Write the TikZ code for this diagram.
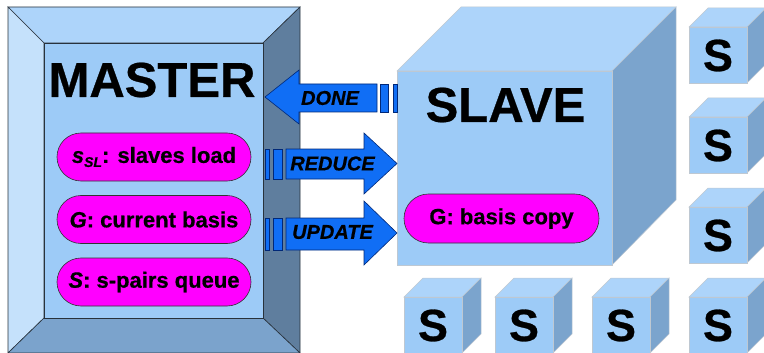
\documentclass[tikz,border=0pt]{standalone}
\usepackage{fontspec}
\setmainfont{Liberation Sans}[BoldFeatures={FakeBold=0.6},BoldItalicFeatures={FakeBold=0.6}]
\usetikzlibrary{shapes.misc}
\definecolor{frontc}{RGB}{157,203,247}
\definecolor{topc}{RGB}{173,212,250}
\definecolor{rightc}{RGB}{123,164,205}
\definecolor{mleft}{RGB}{197,225,251}
\definecolor{mright}{RGB}{95,126,158}
\definecolor{mbottom}{RGB}{123,163,204}
\definecolor{arrowc}{RGB}{16,110,245}
\definecolor{arrowline}{RGB}{0,40,120}
\definecolor{pillc}{RGB}{255,0,255}
\definecolor{edgec}{RGB}{190,200,210}
\tikzset{
  frameline/.style={draw={rgb,255:red,40;green,50;blue,60}, line width=0.6pt},
  cubeline/.style={draw=edgec, line width=0.5pt},
  pill/.style={rounded rectangle, draw=black!80, line width=0.6pt, fill=pillc,
    minimum width=194pt, minimum height=48pt, inner sep=0pt,
    font=\fontsize{22}{26}\selectfont\bfseries},
  bigtitle/.style={font=\fontsize{49}{56}\selectfont\bfseries, inner sep=0pt},
  arrowshape/.style={fill=arrowc, draw=arrowline, line width=0.6pt},
  arrowtext/.style={font=\fontsize{20}{24}\selectfont\bfseries\itshape, inner sep=0pt},
  stext/.style={font=\fontsize{45}{50}\selectfont\bfseries, inner sep=0pt},
  scube/.pic={
    \path[fill=topc, cubeline] (0,0) -- (19,-19) -- (77,-19) -- (58,0) -- cycle;
    \path[fill=rightc, cubeline] (58,0) -- (77,-19) -- (77,37) -- (58,56) -- cycle;
    \path[fill=frontc, cubeline] (0,0) rectangle (58,56);
    \node[stext] (-s) at (29,28.5) {S};
  }
}
\begin{document}
\begin{tikzpicture}[x=1pt,y=-1pt]
\useasboundingbox (0,0) rectangle (764,353);
\clip (0,0) rectangle (764,353);
% MASTER frame
\path[fill=topc, frameline] (8,7) -- (300,7) -- (263,43) -- (44,43) -- cycle;
\path[fill=mleft, frameline] (8,7) -- (44,43) -- (44,318) -- (8,353) -- cycle;
\path[fill=mright, frameline] (300,7) -- (300,353) -- (263,318) -- (263,43) -- cycle;
\path[fill=mbottom, frameline] (8,353) -- (44,318) -- (263,318) -- (300,353) -- cycle;
\path[fill=frontc, frameline] (44,43) rectangle (263,318);
\node[bigtitle] (master) at (152,80) {MASTER};
\node[pill] (sl) at (154,157) {{\itshape s}\raisebox{-0.35ex}{\fontsize{14}{16}\selectfont\itshape SL}: slaves load};
\node[pill] (gb) at (154,219.5) {{\itshape G}: current basis};
\node[pill] (sq) at (154,282) {{\itshape S}: s-pairs queue};
% SLAVE cube
\path[fill=topc, cubeline] (397,71) -- (461,7) -- (676,7) -- (612,71) -- cycle;
\path[fill=rightc, cubeline] (612,71) -- (676,7) -- (676,200) -- (612,265) -- cycle;
\path[fill=frontc, cubeline] (397,71) rectangle (612,265);
\node[bigtitle] (slave) at (505.5,105) {SLAVE};
\node[pill, minimum width=195pt, minimum height=49pt] (gc) at (501.5,218.5) {G: basis copy};
% DONE arrow
\path[arrowshape] (265,97) -- (299,70) -- (299,84) -- (377,84) -- (377,112) -- (299,112) -- (299,124) -- cycle;
\path[arrowshape] (380,84) rectangle (388,112);
\path[arrowshape] (393,84) rectangle (397,112);
\node[arrowtext] (done) at (330,98) {DONE};
% REDUCE arrow
\path[arrowshape] (265,149) rectangle (269,179);
\path[arrowshape] (273,149) rectangle (282,179);
\path[arrowshape] (286,149) -- (364,149) -- (364,133) -- (397,163.5) -- (364,194) -- (364,179) -- (286,179) -- cycle;
\node[arrowtext] (reduce) at (332.5,163.5) {REDUCE};
% UPDATE arrow
\path[arrowshape] (265,218) rectangle (269,250);
\path[arrowshape] (273,218) rectangle (282,250);
\path[arrowshape] (286,218) -- (364,218) -- (364,201) -- (397,233) -- (364,265) -- (364,250) -- (286,250) -- cycle;
\node[arrowtext] (update) at (332.5,232) {UPDATE};
% small cubes
\pic (r1) at (689,27) {scube};
\pic (r2) at (689,117) {scube};
\pic (r3) at (689,207) {scube};
\pic (b1) at (404,297) {scube};
\pic (b2) at (495,297) {scube};
\pic (b3) at (592,297) {scube};
\pic (b4) at (689,297) {scube};
\end{tikzpicture}
\end{document}
